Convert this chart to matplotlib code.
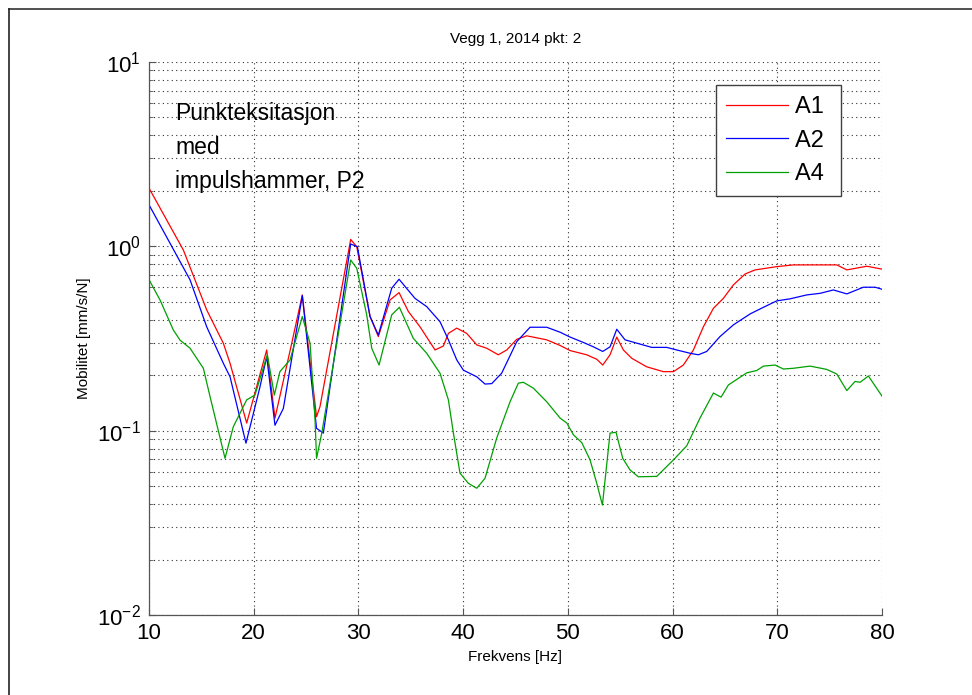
import numpy as np
import matplotlib
matplotlib.use("Agg")
import matplotlib.pyplot as plt
from matplotlib.lines import Line2D
from matplotlib.ticker import LogLocator, FixedLocator, NullFormatter

plt.rcParams['font.family'] = ['Liberation Sans', 'DejaVu Sans']
plt.rcParams['mathtext.fontset'] = 'custom'
plt.rcParams['mathtext.rm'] = 'Liberation Sans'
plt.rcParams['mathtext.it'] = 'Liberation Sans'

# --- data ---
f_a1 = [10.0, 13.28, 15.51, 17.1, 17.74, 19.33, 21.24, 22.03, 23.63, 24.64, 26.0,
        26.33, 29.26, 29.84, 31.11, 31.9, 33.02, 33.88, 34.77, 35.88, 37.32, 38.11,
        38.59, 39.39, 40.34, 41.3, 42.25, 43.36, 44.16, 45.12, 46.07, 47.98, 49.26,
        50.21, 51.8, 52.76, 53.33, 54.03, 54.67, 55.3, 56.1, 57.53, 59.12, 60.08,
        61.03, 61.99, 62.94, 63.9, 64.85, 65.81, 66.93, 67.88, 69.95, 71.54, 75.68,
        76.64, 78.55, 80.0]
a1 = [2.07, 0.955, 0.452, 0.298, 0.232, 0.110, 0.274, 0.117, 0.298, 0.545, 0.119,
      0.135, 1.09, 0.995, 0.416, 0.324, 0.512, 0.561, 0.443, 0.366, 0.274, 0.288,
      0.337, 0.360, 0.337, 0.292, 0.280, 0.258, 0.274, 0.313, 0.327, 0.311, 0.290,
      0.272, 0.258, 0.244, 0.227, 0.258, 0.322, 0.274, 0.247, 0.222, 0.209, 0.209,
      0.227, 0.274, 0.366, 0.461, 0.522, 0.618, 0.708, 0.745, 0.776, 0.793, 0.793,
      0.745, 0.780, 0.752]

f_a2 = [10.0, 13.92, 15.51, 17.1, 17.74, 19.26, 20.6, 21.24, 22.03, 22.83, 24.64,
        26.0, 26.65, 29.26, 29.9, 31.11, 31.9, 33.18, 33.88, 35.4, 36.52, 37.79,
        38.59, 39.39, 40.02, 41.3, 42.09, 42.73, 43.68, 45.12, 46.39, 47.98, 49.26,
        50.21, 51.48, 52.44, 53.33, 54.03, 54.67, 55.46, 56.89, 58.01, 59.44, 60.4,
        61.67, 62.46, 63.26, 64.53, 65.81, 67.41, 68.68, 69.95, 71.22, 72.81, 74.09,
        75.36, 76.64, 78.22, 79.34, 80.0]
a2 = [1.68, 0.658, 0.366, 0.232, 0.196, 0.0855, 0.173, 0.252, 0.107, 0.132, 0.54,
      0.103, 0.097, 1.03, 0.995, 0.416, 0.330, 0.593, 0.663, 0.522, 0.471, 0.390,
      0.311, 0.242, 0.213, 0.196, 0.179, 0.180, 0.205, 0.304, 0.364, 0.364, 0.342,
      0.322, 0.301, 0.285, 0.269, 0.285, 0.355, 0.311, 0.295, 0.283, 0.283, 0.274,
      0.263, 0.258, 0.269, 0.324, 0.375, 0.430, 0.467, 0.506, 0.519, 0.545, 0.556,
      0.580, 0.552, 0.600, 0.600, 0.585]

f_a4 = [10.0, 11.05, 12.32, 12.96, 13.92, 15.19, 15.83, 17.26, 18.05, 19.33, 20.12,
        21.3, 21.97, 22.5, 23.47, 24.64, 25.38, 25.85, 26.0, 26.5, 29.26, 29.84,
        30.79, 31.27, 31.97, 33.18, 33.91, 35.24, 36.52, 37.79, 38.59, 39.07, 39.7,
        40.5, 41.3, 42.09, 43.2, 44.48, 45.27, 45.75, 46.71, 47.98, 49.26, 49.9,
        50.53, 51.33, 52.12, 52.76, 53.3, 54.03, 54.6, 55.24, 55.94, 56.73, 58.49,
        60.08, 61.35, 62.62, 63.9, 64.63, 65.33, 67.09, 68.04, 68.68, 69.79, 70.59,
        71.54, 73.13, 74.72, 75.68, 76.64, 77.43, 77.91, 78.7, 80.0]
a4 = [0.66, 0.512, 0.352, 0.310, 0.280, 0.218, 0.153, 0.0708, 0.105, 0.147, 0.156,
      0.258, 0.156, 0.209, 0.242, 0.416, 0.298, 0.117, 0.0708, 0.097, 0.843, 0.760,
      0.425, 0.280, 0.227, 0.425, 0.467, 0.317, 0.263, 0.205, 0.147, 0.097, 0.0588,
      0.0518, 0.0487, 0.0552, 0.091, 0.1435, 0.181, 0.183, 0.170, 0.1435, 0.117, 0.110,
      0.095, 0.0861, 0.0694, 0.0518, 0.0395, 0.097, 0.098, 0.0708, 0.0612, 0.0562, 0.0565,
      0.0694, 0.0827, 0.117, 0.160, 0.152, 0.177, 0.206, 0.212, 0.224, 0.227, 0.216,
      0.218, 0.224, 0.215, 0.203, 0.165, 0.185, 0.183, 0.198, 0.154]

x_ticks = [10, 20, 30, 40, 50, 60, 70, 80]
title = "Vegg 1, 2014 pkt: 2"
note = "Punkteksitasjon\nmed\nimpulshammer, P2"

# --- figure ---
fig = plt.figure(figsize=(9.72, 6.95), dpi=100)
ax = fig.add_axes([149/972, 80/695, 733/972, 553/695])

ax.plot(f_a1, a1, color='#ff0000', lw=0.9, label='A1 ')
ax.plot(f_a2, a2, color='#0000ff', lw=0.9, label='A2 ')
ax.plot(f_a4, a4, color='#00a000', lw=0.9, label='A4 ')

ax.set_yscale('log')
ax.set_xlim(10, 80)
ax.set_ylim(1e-2, 1e1)
ax.xaxis.set_major_locator(FixedLocator(x_ticks))
ax.yaxis.set_major_locator(LogLocator(base=10, numticks=10))
ax.yaxis.set_minor_locator(LogLocator(base=10, subs=np.arange(2, 10), numticks=20))
ax.yaxis.set_minor_formatter(NullFormatter())

ax.grid(True, which='major', axis='both', linestyle=(0, (1, 3)), color='#303030', lw=0.8)
ax.grid(True, which='minor', axis='y', linestyle=(0, (1, 3)), color='#303030', lw=0.8)

for s in ['top', 'right']:
    ax.spines[s].set_visible(False)
for s in ['left', 'bottom']:
    ax.spines[s].set_color('#555555')
    ax.spines[s].set_linewidth(0.9)

ax.tick_params(which='both', direction='in', colors='#555555', labelcolor='black',
               labelsize=16, pad=6)
ax.tick_params(which='major', length=5)
ax.tick_params(which='minor', length=3)

ax.set_xlabel('Frekvens [Hz]', fontsize=11, labelpad=4)
ax.set_ylabel('Mobilitet [mm/s/N]', fontsize=11, labelpad=4)
ax.set_title(title, fontsize=11, pad=14)

ax.text(0.036, 0.928, note, transform=ax.transAxes, fontsize=16.5, va='top', ha='left',
        linespacing=1.62)

leg = ax.legend(loc='upper right', bbox_to_anchor=(0.944, 0.958), borderaxespad=0,
                fontsize=17, handlelength=2.6, fancybox=False, framealpha=1,
                edgecolor='#404040', borderpad=0.45, labelspacing=0.5, handletextpad=0.3)
leg.get_frame().set_linewidth(1.0)

# window frame lines
fig.add_artist(Line2D([9/972, 1.0], [1 - 9/695, 1 - 9/695], color='#333333', lw=1.2,
                      transform=fig.transFigure))
fig.add_artist(Line2D([9/972, 9/972], [0.0, 1 - 9/695], color='#222222', lw=1.2,
                      transform=fig.transFigure))

fig.savefig('out.png', dpi=100)
